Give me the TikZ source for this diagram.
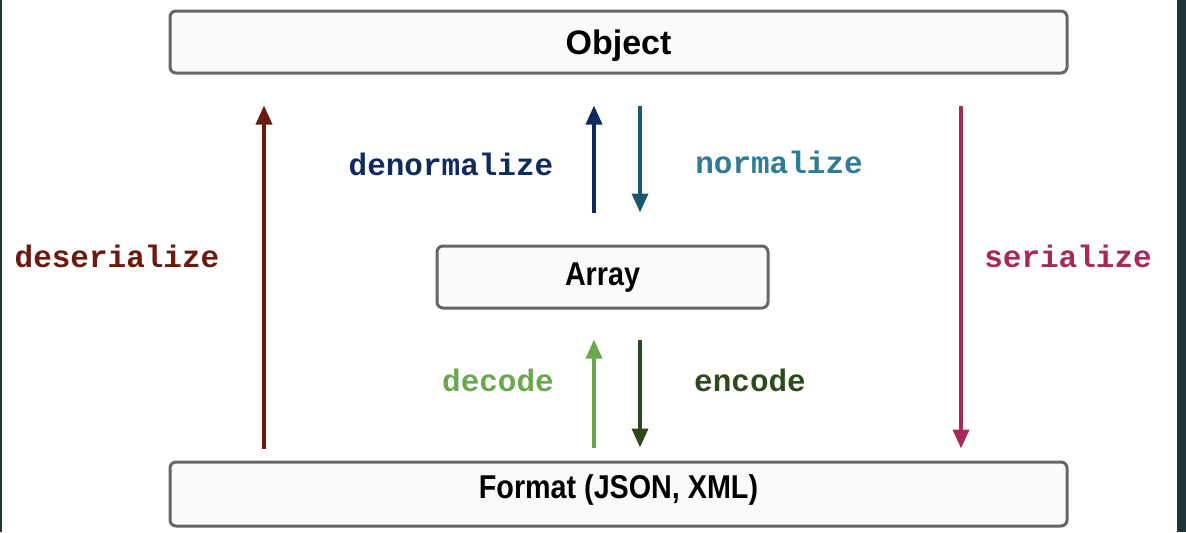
\documentclass[tikz,border=0pt]{standalone}
\usepackage{fontspec}
\setmainfont{Liberation Sans}
\newfontfamily\codefont{Liberation Mono}
\usetikzlibrary{arrows.meta}
\definecolor{frame}{HTML}{1E3539}
\definecolor{deser}{HTML}{6B1A0E}
\definecolor{ser}{HTML}{A8285A}
\definecolor{denorm}{HTML}{0F2B5E}
\definecolor{normtxt}{HTML}{2E7B9B}
\definecolor{normarr}{HTML}{1E5670}
\definecolor{dec}{HTML}{6AA84F}
\definecolor{enc}{HTML}{2C4A1B}
\newcommand{\narrow}[1]{\scalebox{0.87}[1]{#1}}
\tikzset{
  box/.style={draw=black!60, line width=1.5pt, rounded corners=3pt, fill=black!2,
    font=\fontsize{16.5}{19}\selectfont\bfseries, inner sep=0pt, text depth=0pt},
  capline/.style={text height=#1},
  lbl/.style={font=\codefont\fontsize{15.5}{18}\selectfont\bfseries, inner sep=0pt},
  flow/.style={line width=1.8pt, -{Triangle[length=9.5pt,width=8pt]}}
}

\begin{document}
\begin{tikzpicture}[x=0.5pt, y=-0.5pt]
			%%%%% START %%%%%
			
			\useasboundingbox[fill=white] (0, 0) rectangle (1186, 532);
			\fill[frame] (0, 0) rectangle (2, 532);
			\fill[frame] (1177, 0) rectangle (1186, 532);
			
			\node[box, capline=12pt, minimum width=448.5pt, minimum height=31pt, font=\fontsize{17}{19}\selectfont\bfseries] (obj) at (618.5, 42) {Object};
			\node[box, capline=8pt, minimum width=165.5pt, minimum height=31pt] (arr) at (602.5, 277) {\narrow{Array}};
			\node[box, capline=4pt, minimum width=448.5pt, minimum height=32pt] (fmt) at (618.5, 494) {\narrow{Format (JSON, XML)}};
			
			% outer pair: format <-> object
			\draw[flow, color=deser, shorten <=6pt, shorten >=15.5pt] (fmt.north -| 264, 0) -- (obj.south -| 264, 0);
			\draw[flow, color=ser, shorten <=15.5pt, shorten >=6pt] (obj.south -| 961, 0) -- (fmt.north -| 961, 0);
			\node[lbl, color=deser] (deserlbl) at (117, 256) {deserialize};
			\node[lbl, color=ser] (serlbl) at (1068, 256) {serialize};
			
			% array <-> object
			\draw[flow, color=denorm, shorten <=16pt, shorten >=15.5pt] (arr.north -| 594, 0) -- (obj.south -| 594, 0);
			\draw[flow, color=normarr, shorten <=15.5pt, shorten >=16pt] (obj.south -| 640, 0) -- (arr.north -| 640, 0);
			\node[lbl, color=denorm] (denormlbl) at (451, 164) {denormalize};
			\node[lbl, color=normtxt] (normlbl) at (779, 162) {normalize};
			
			% format <-> array
			\draw[flow, color=dec, shorten <=6.5pt, shorten >=15pt] (fmt.north -| 594, 0) -- (arr.south -| 594, 0);
			\draw[flow, color=enc, shorten <=15pt, shorten >=6.5pt] (arr.south -| 640, 0) -- (fmt.north -| 640, 0);
			\node[lbl, color=dec] (declbl) at (498, 380) {decode};
			\node[lbl, color=enc] (enclbl) at (750, 380) {encode};
			
			%%%%% END %%%%%
		\end{tikzpicture}
\end{document}
